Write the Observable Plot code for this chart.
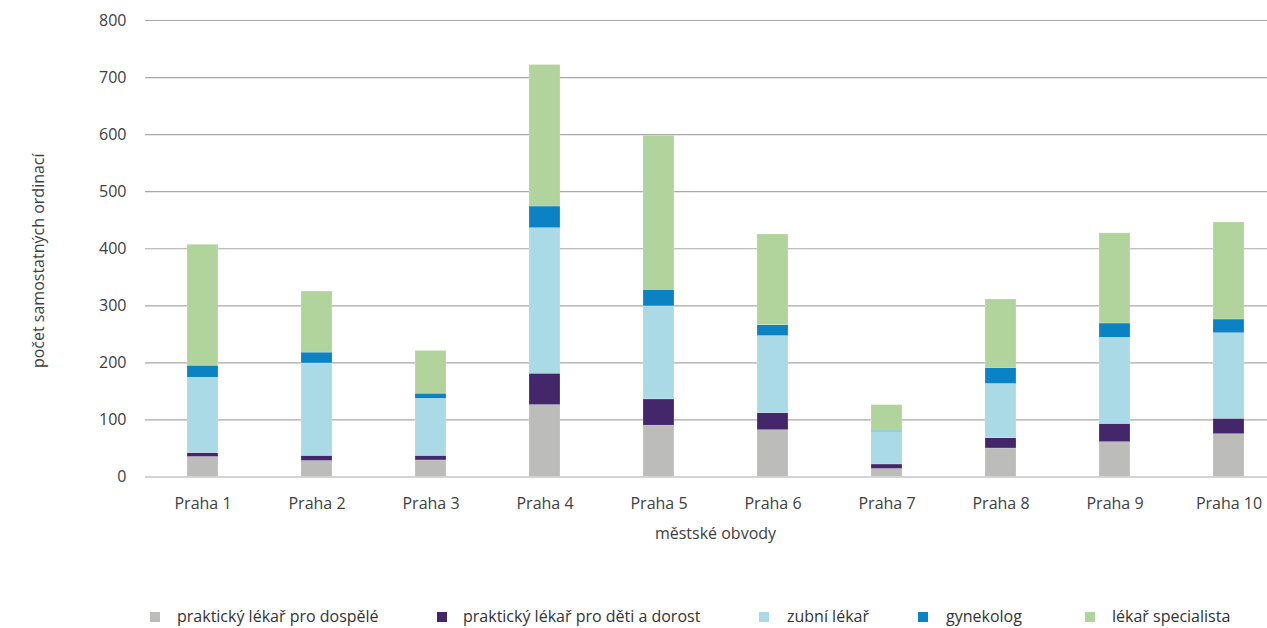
<!DOCTYPE html>
<html>
<head>
<meta charset="utf-8">
<script src="https://cdn.jsdelivr.net/npm/d3@7"></script>
<script src="https://cdn.jsdelivr.net/npm/@observablehq/plot@0.6"></script>
<style>
  html, body { margin: 0; padding: 0; background: #fff; }
  body { width: 1267px; height: 628px; position: relative; overflow: hidden; font-family: "Open Sans", sans-serif; }
  #legend { position: absolute; left: 0; top: 605px; width: 1267px; height: 22px; font-size: 16px; color: #333; }
  .item { position: absolute; top: 0; white-space: nowrap; line-height: 22px; }
  .sw { position: absolute; top: 7px; width: 10px; height: 10px; }
</style>
</head>
<body>
<div id="chart"></div>
<div id="legend"></div>
<script>
const districts = ["Praha 1","Praha 2","Praha 3","Praha 4","Praha 5","Praha 6","Praha 7","Praha 8","Praha 9","Praha 10"];
const seriesNames = ["praktický lékař pro dospělé","praktický lékař pro děti a dorost","zubní lékař","gynekolog","lékař specialista"];
const seriesColors = ["#bcbcbb","#44266a","#aadae6","#0a82c4","#b1d49c"];
const adult    = [35, 28, 29, 126, 90, 82, 14, 50, 61, 75];
const child    = [7, 9, 8, 55, 46, 30, 8, 18, 32, 27];
const dental   = [132, 162, 100, 255, 163, 135, 57, 95, 151, 150];
const gyn      = [21, 19, 9, 38, 29, 19, 2, 28, 25, 24];
const spec     = [212, 107, 75, 248, 270, 159, 45, 120, 158, 170];
const yTicks   = [0, 100, 200, 300, 400, 500, 600, 700, 800];
const yTitle = "počet samostatných ordinací";
const xTitle = "městské obvody";

const seriesValues = [adult, child, dental, gyn, spec];
const table = [];
seriesNames.forEach((s, i) => {
  districts.forEach((d, j) => table.push({district: d, series: s, value: seriesValues[i][j]}));
});

const W = 1267, H = 560;
const chart = Plot.plot({
  width: W,
  height: H,
  marginLeft: 145,
  marginRight: 0,
  marginTop: 20,
  marginBottom: 83.5,
  style: {fontFamily: "'Open Sans', sans-serif", fontSize: "16px", color: "#404040", background: "#fff", overflow: "visible"},
  x: {type: "band", domain: districts, range: [144, 1286], paddingInner: 0.73, paddingOuter: 0.365, label: null},
  y: {domain: [0, 800], label: null},
  color: {domain: seriesNames, range: seriesColors},
  marks: [
    Plot.ruleY(yTicks, {stroke: "#a8a8a8", strokeWidth: 1.2}),
    Plot.barY(table, {x: "district", y: "value", fill: "series", order: seriesNames, stroke: "#ffffff", strokeOpacity: 0.35, strokeWidth: 0.6}),
    Plot.axisX({tickSize: 0, tickPadding: 21, label: null, fontSize: 16}),
    Plot.axisY({ticks: yTicks, tickSize: 0, tickPadding: 19, label: null, fontSize: 16}),
    Plot.text([xTitle], {text: d => d, frameAnchor: "bottom", dx: 9, dy: 62, fontSize: 16, fill: "#404040"}),
    Plot.text([yTitle], {text: d => d, frameAnchor: "left", textAnchor: "middle", rotate: -90, dx: -107, dy: 12, fontSize: 16, fill: "#404040"})
  ]
});
document.getElementById("chart").appendChild(chart);

const legendPos = [[150, 177], [437, 463], [759, 787], [918, 946], [1085, 1112]];
const legend = document.getElementById("legend");
seriesNames.forEach((s, i) => {
  const sw = document.createElement("div");
  sw.className = "sw";
  sw.style.left = legendPos[i][0] + "px";
  sw.style.background = seriesColors[i];
  legend.appendChild(sw);
  const t = document.createElement("div");
  t.className = "item";
  t.style.left = legendPos[i][1] + "px";
  t.textContent = s;
  legend.appendChild(t);
});
</script>
</body>
</html>
